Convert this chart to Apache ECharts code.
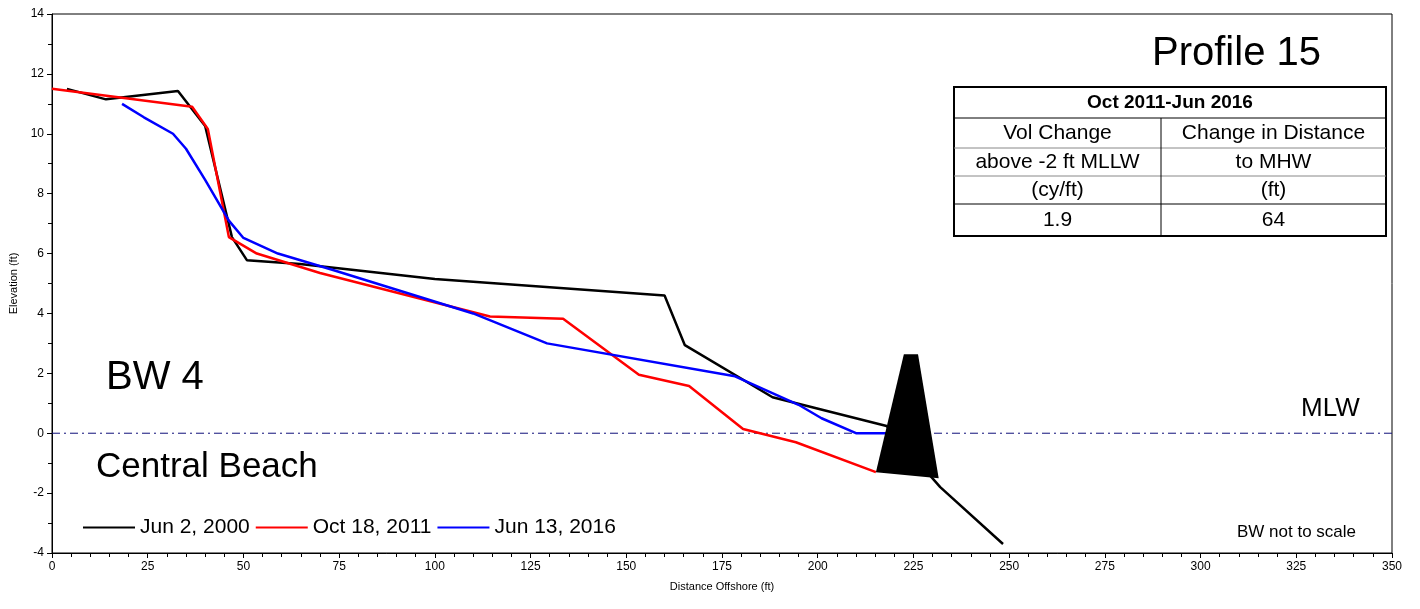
<!DOCTYPE html>
<html><head><meta charset="utf-8">
<script src="https://cdn.jsdelivr.net/npm/echarts@6/dist/echarts.min.js"></script>
<style>body{margin:0}#c{width:1420px;height:609px}</style></head>
<body><div id="c"></div>
<script>
const jun2000 = [[3.9,11.5],[14.1,11.15],[32.9,11.43],[40,10.26],[47,6.55],[50.9,5.78],[64.8,5.65],[100,5.15],[160,4.6],[165.3,2.94],[188.2,1.2],[218,0.24],[232,-1.8],[248.4,-3.7]];
const oct2011 = [[0,11.5],[36.6,10.9],[40.7,10.16],[46.2,6.55],[53.5,6.0],[70,5.35],[114.4,3.9],[133.5,3.82],[153.3,1.95],[166.4,1.58],[180.5,0.14],[194.3,-0.3],[215.2,-1.3]];
const jun2016 = [[18.3,11.0],[24,10.55],[31.6,10.0],[35,9.5],[40,8.46],[46.2,7.1],[50,6.52],[59,6.0],[73.4,5.45],[110,4.0],[129.3,3.0],[178.4,1.9],[195,0.95],[201,0.5],[210,0],[218,0]];
const breakwater = [[215.2,-1.3],[222.5,2.64],[226.2,2.64],[231.6,-1.5]];
const tableRows = [['Vol Change','Change in Distance'],['above -2 ft MLLW','to MHW'],['(cy/ft)','(ft)'],['1.9','64']];

const chart = echarts.init(document.getElementById('c'));
const F = 'Liberation Sans, Arial, sans-serif';
const line = (name, data, color) => ({name, type:'line', data, symbol:'none', lineStyle:{color, width:2.5}, itemStyle:{color}, z:3});

// table graphics
const tx0 = 954, tx1 = 1386, tmid = 1161, rowsY = [87,118,148,176,204,236];
const g = [{type:'rect', shape:{x:tx0,y:rowsY[0],width:tx1-tx0,height:rowsY[5]-rowsY[0]}, style:{fill:'#fff',stroke:'#000',lineWidth:2}, z:10},
  {type:'text', x:(tx0+tx1)/2, y:(rowsY[0]+rowsY[1])/2, style:{text:'Oct 2011-Jun 2016', font:'bold 19px '+F, align:'center', verticalAlign:'middle'}, z:11}];
for (let i=1;i<5;i++) g.push({type:'line', shape:{x1:tx0,y1:rowsY[i],x2:tx1,y2:rowsY[i]}, style:{stroke:i===1||i===4?'#000':'#888',lineWidth:1}, z:11});
g.push({type:'line', shape:{x1:tmid,y1:rowsY[1],x2:tmid,y2:rowsY[5]}, style:{stroke:'#000',lineWidth:1}, z:11});
tableRows.forEach((r,i)=>{
  g.push({type:'text', x:(tx0+tmid)/2, y:(rowsY[i+1]+rowsY[i+2])/2, style:{text:r[0],font:'21px '+F,align:'center',verticalAlign:'middle'}, z:11});
  g.push({type:'text', x:(tmid+tx1)/2, y:(rowsY[i+1]+rowsY[i+2])/2, style:{text:r[1],font:'21px '+F,align:'center',verticalAlign:'middle'}, z:11});
});
g.push({type:'text', left:1152, top:34, style:{text:'Profile 15', font:'40px '+F}});
g.push({type:'text', left:106, top:358, style:{text:'BW 4', font:'40px '+F}});
g.push({type:'text', left:96, top:450, style:{text:'Central Beach', font:'35px '+F}});
g.push({type:'text', left:1301, top:396, style:{text:'MLW', font:'26px '+F}});
g.push({type:'text', left:1237, top:524, style:{text:'BW not to scale', font:'17px '+F}});

chart.setOption({
  animation:false,
  grid:{left:52, right:28, top:14, bottom:56, show:true, borderColor:'#000', borderWidth:1},
  legend:{left:78, top:512, itemWidth:52, itemHeight:2, itemGap:6, icon:'rect',
    textStyle:{fontSize:21, fontFamily:F, color:'#000'}, data:['Jun 2, 2000','Oct 18, 2011','Jun 13, 2016']},
  xAxis:{type:'value', min:0, max:350, interval:25, name:'Distance Offshore (ft)', nameLocation:'middle', nameGap:28,
    nameTextStyle:{fontSize:11, fontFamily:F, color:'#000'},
    axisLine:{onZero:false, lineStyle:{color:'#000'}}, axisTick:{length:5, lineStyle:{color:'#000'}},
    minorTick:{show:true, splitNumber:5, length:4, lineStyle:{color:'#000'}},
    axisLabel:{fontSize:12, fontFamily:F, color:'#000'}, splitLine:{show:false}},
  yAxis:{type:'value', min:-4, max:14, interval:2, name:'Elevation (ft)', nameLocation:'middle', nameGap:32,
    nameTextStyle:{fontSize:11, fontFamily:F, color:'#000'},
    axisLine:{onZero:false, lineStyle:{color:'#000'}}, axisTick:{length:5, lineStyle:{color:'#000'}},
    minorTick:{show:true, splitNumber:2, length:4, lineStyle:{color:'#000'}},
    axisLabel:{fontSize:12, fontFamily:F, color:'#000'}, splitLine:{show:false}},
  graphic:g,
  series:[
    line('Jun 2, 2000', jun2000, '#000'),
    line('Oct 18, 2011', oct2011, '#ff0000'),
    line('Jun 13, 2016', jun2016, '#0000ff'),
    {type:'custom', name:'bw', data:[0], z:5, renderItem:(p, api)=>({type:'polygon',
      shape:{points:breakwater.map(d=>api.coord(d))}, style:{fill:'#000'}})},
    {type:'line', name:'MLW', data:[[0,0],[350,0]], symbol:'none', z:2,
      lineStyle:{color:'#10107a', width:1, type:[8,4,2,4]}}
  ]
});
</script></body></html>
